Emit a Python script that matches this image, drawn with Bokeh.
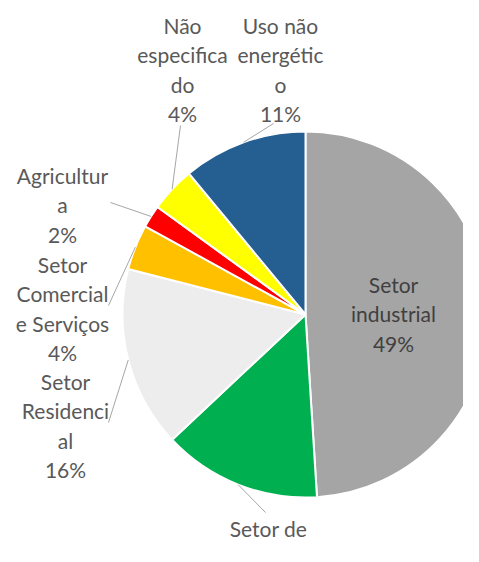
import numpy as np
from bokeh.plotting import figure
from bokeh.models import Range1d, ColumnDataSource
from bokeh.embed import file_html
from bokeh.resources import INLINE
from bokeh.core.properties import value

# ---- data ----
sectors = ["Setor industrial", "Setor de Transporte", "Setor Residencial",
           "Setor Comercial e Serviços", "Agricultura", "Não especificado",
           "Uso não energético"]
shares = [49, 14, 16, 4, 2, 4, 11]
wrapped_names = ["Setor\nindustrial", "Setor de\nTransport\ne", "Setor\nResidenci\nal",
                 "Setor\nComercial\ne Serviços", "Agricultur\na", "Não\nespecifica\ndo",
                 "Uso não\nenergétic\no"]
colors = ["#A5A5A5", "#00B050", "#EDEDED", "#FFC000", "#FF0000", "#FFFF00", "#255E91"]

# ---- layout (screen pixel coords of the 479x562 picture) ----
PAGE_H = 562
FIG_W, FIG_H = 463, 546
CX, CY, R = 305, 314, 183
# label block: centre x, first-line centre y
label_pos = [(393, 284), (268, 528), (65, 381), (62, 264), (62, 175), (182, 25), (280, 25)]
# leader line end near the label (None = no leader)
leader_end = [None, (265, 512), (108, 422), (108, 305), (110, 202), (180, 125), (273, 123)]
LINE_STEP = 29.3

def dy(sy):
    return PAGE_H - sy

p = figure(width=FIG_W, height=FIG_H, x_range=Range1d(0, FIG_W),
           y_range=Range1d(PAGE_H - FIG_H, PAGE_H),
           output_backend="svg", toolbar_location=None, min_border=0)
p.axis.visible = False
p.grid.visible = False
p.outline_line_color = None
p.background_fill_color = "white"
p.border_fill_color = "white"

vals = np.array(shares, dtype=float)
cum = np.cumsum(vals) / vals.sum() * 360.0
a_cw = np.concatenate([[0.0], cum[:-1]])
b_cw = cum
start = np.deg2rad(90.0 - b_cw)
end = np.deg2rad(90.0 - a_cw)

src = ColumnDataSource(dict(start=start, end=end, color=colors, name=sectors))
p.wedge(x=CX, y=dy(CY), radius=R, start_angle="start", end_angle="end",
        direction="anticlock", fill_color="color", line_color="white", line_width=2,
        source=src)

# leader lines
xs, ys = [], []
for i, le in enumerate(leader_end):
    if le is None:
        continue
    mid = np.deg2rad((a_cw[i] + b_cw[i]) / 2.0)
    ax = CX + R * np.sin(mid)
    ay = CY - R * np.cos(mid)
    xs.append([le[0], ax])
    ys.append([dy(le[1]), dy(ay)])
p.multi_line(xs=xs, ys=ys, line_color="#A6A6A6", line_width=1)

# labels
tx, ty, tt, tc = [], [], [], []
for i, (name, s) in enumerate(zip(wrapped_names, shares)):
    lines = name.split("\n") + [f"{s}%"]
    x0, y0 = label_pos[i]
    for k, ln in enumerate(lines):
        tx.append(x0)
        ty.append(dy(y0 + k * LINE_STEP))
        tt.append(ln)
        tc.append("#404040" if i == 0 else "#595959")
p.text(x=tx, y=ty, text=tt, text_color=tc, text_align="center", text_baseline="middle",
       text_font=value("Lato"), text_font_size="21px")

open("out.html", "w").write(file_html(p, INLINE))
